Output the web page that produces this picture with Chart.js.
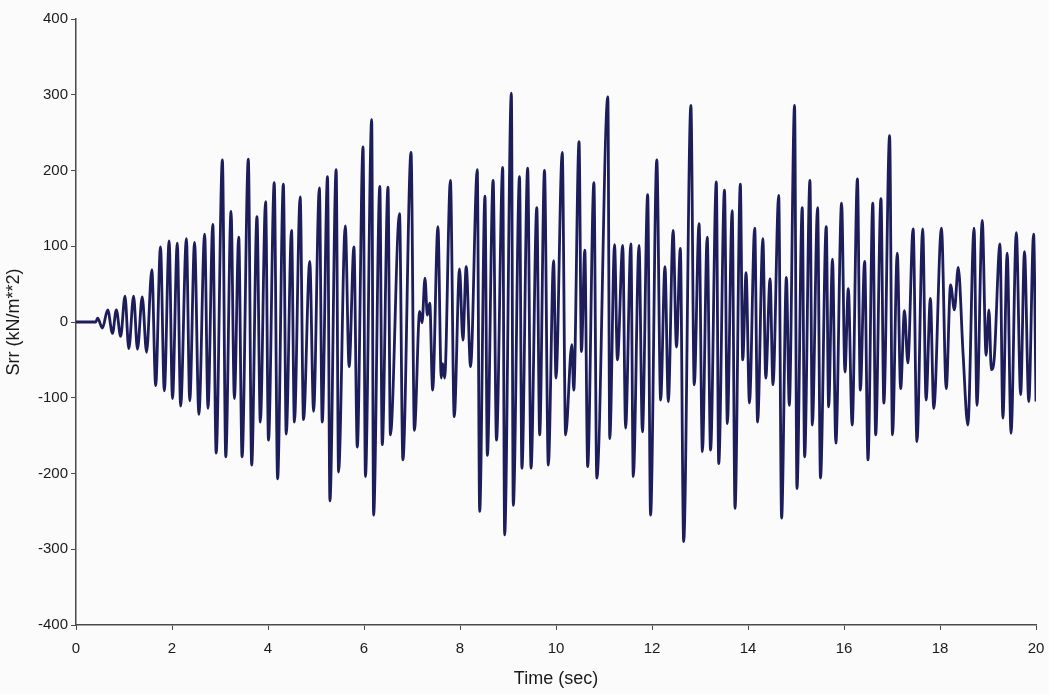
<!DOCTYPE html>
<html>
<head>
<meta charset="utf-8">
<script src="https://cdn.jsdelivr.net/npm/chart.js@4.4.0/dist/chart.umd.min.js"></script>
<style>
  html, body { margin: 0; padding: 0; background: #fbfbfc; }
  #wrap { width: 1049px; height: 694px; }
</style>
</head>
<body>
<div id="wrap"><canvas id="chart" width="1049" height="694"></canvas></div>
<script>
// time (sec) at each turning point of the trace
const times = [
  0, 0.41, 0.45, 0.55, 0.66, 0.76, 0.84, 0.93, 1.02, 1.10, 1.20, 1.28, 1.38, 1.47, 1.58, 1.66,
  1.76, 1.84, 1.94, 2.01, 2.11, 2.18, 2.30, 2.37, 2.47, 2.56, 2.68, 2.75, 2.85, 2.92, 3.05, 3.12,
  3.23, 3.30, 3.39, 3.46, 3.59, 3.66, 3.77, 3.84, 3.95, 4.01, 4.13, 4.20, 4.32, 4.38, 4.49, 4.55,
  4.67, 4.74, 4.87, 4.95, 5.07, 5.13, 5.24, 5.29, 5.42, 5.47, 5.61, 5.69, 5.79, 5.86, 5.98, 6.03,
  6.16, 6.20, 6.33, 6.38, 6.50, 6.55, 6.74, 6.81, 6.98, 7.05, 7.16, 7.21, 7.27, 7.32, 7.37, 7.43,
  7.54, 7.61, 7.64, 7.68, 7.80, 7.88, 7.99, 8.06, 8.13, 8.22, 8.36, 8.41, 8.52, 8.57, 8.69, 8.76,
  8.89, 8.93, 9.07, 9.11, 9.24, 9.29, 9.41, 9.48, 9.60, 9.66, 9.76, 9.84, 9.95, 10.00, 10.13, 10.20,
  10.33, 10.37, 10.48, 10.53, 10.60, 10.66, 10.79, 10.85, 11.08, 11.12, 11.22, 11.28, 11.39, 11.45, 11.56, 11.61,
  11.73, 11.80, 11.91, 11.97, 12.10, 12.18, 12.27, 12.34, 12.44, 12.51, 12.59, 12.66, 12.81, 12.88, 12.98, 13.05,
  13.15, 13.22, 13.34, 13.39, 13.51, 13.57, 13.67, 13.73, 13.84, 13.89, 13.96, 14.03, 14.14, 14.20, 14.31, 14.37,
  14.46, 14.52, 14.64, 14.70, 14.80, 14.86, 14.97, 15.02, 15.13, 15.18, 15.29, 15.34, 15.45, 15.51, 15.63, 15.68,
  15.76, 15.83, 15.95, 16.02, 16.09, 16.17, 16.28, 16.34, 16.43, 16.50, 16.60, 16.66, 16.77, 16.83, 16.95, 17.01,
  17.11, 17.18, 17.26, 17.33, 17.44, 17.52, 17.64, 17.71, 17.80, 17.87, 18.03, 18.13, 18.22, 18.30, 18.38, 18.48,
  18.58, 18.71, 18.77, 18.88, 18.96, 19.02, 19.07, 19.13, 19.25, 19.31, 19.40, 19.48, 19.59, 19.68, 19.76, 19.85,
  19.95, 20.00
];

// Srr (kN/m**2) at those times
const srr = [
  0, 0, 5, -8, 16, -15, 16, -19, 34, -35, 34, -36, 33, -40, 69, -84,
  99, -91, 107, -101, 104, -111, 110, -104, 105, -122, 116, -114, 129, -173, 214, -178,
  146, -101, 112, -178, 215, -189, 139, -132, 159, -156, 184, -207, 182, -148, 121, -132,
  165, -129, 80, -118, 177, -132, 192, -236, 201, -198, 127, -59, 99, -165, 231, -204,
  267, -255, 179, -162, 178, -149, 143, -182, 224, -143, 14, -1, 58, 9, 25, -90,
  126, -74, -55, -74, 187, -125, 70, -24, 73, -59, 201, -250, 166, -176, 187, -156,
  204, -281, 302, -242, 192, -193, 203, -193, 151, -149, 200, -189, 81, -74, 224, -149,
  -30, -90, 238, -39, 95, -191, 184, -206, 297, -154, 102, -50, 101, -140, 103, -204,
  101, -145, 168, -255, 214, -103, 73, -105, 121, -33, 97, -290, 286, -83, 130, -171,
  112, -169, 185, -187, 174, -134, 147, -246, 182, -50, 65, -107, 124, -132, 110, -74,
  57, -83, 167, -259, 59, -110, 286, -220, 151, -178, 187, -136, 151, -206, 126, -112,
  83, -160, 157, -66, 44, -136, 189, -90, 80, -182, 157, -149, 163, -107, 246, -149,
  91, -88, 15, -54, 123, -158, 123, -103, 31, -114, 124, -88, 49, 16, 72, -41,
  -136, 124, -110, 134, -44, 16, -63, -48, 103, -127, 91, -147, 118, -96, 93, -105,
  116, -105
];

const xTicks = [0, 2, 4, 6, 8, 10, 12, 14, 16, 18, 20];
const yTicks = [-400, -300, -200, -100, 0, 100, 200, 300, 400];

const points = times.map((t, i) => ({ x: t, y: srr[i] }));

const axisColor = '#4a4a4a';
const textColor = '#1a1a1a';
const fontFamily = '"Liberation Sans", Arial, sans-serif';

new Chart(document.getElementById('chart'), {
  type: 'line',
  data: {
    datasets: [{
      data: points,
      borderColor: '#1c1d5a',
      borderWidth: 2.8,
      pointRadius: 0,
      fill: false,
      cubicInterpolationMode: 'monotone'
    }]
  },
  options: {
    responsive: false,
    animation: false,
    layout: { padding: { top: 19, right: 13, left: 0, bottom: 0 } },
    plugins: { legend: { display: false }, tooltip: { enabled: false } },
    scales: {
      x: {
        type: 'linear',
        min: 0,
        max: 20,
        afterBuildTicks: axis => { axis.ticks = xTicks.map(v => ({ value: v })); },
        afterFit: axis => {
          axis.height = 69;
          axis.paddingLeft = 8;
          axis.paddingRight = 13;
        },
        grid: { drawOnChartArea: false, drawTicks: true, tickLength: 5, color: axisColor },
        border: { display: true, color: axisColor, width: 1.5 },
        ticks: { color: textColor, padding: 10, maxRotation: 0, font: { family: fontFamily, size: 15 } },
        title: {
          display: true,
          text: 'Time (sec)',
          color: textColor,
          padding: { top: 0, bottom: 4 },
          font: { family: fontFamily, size: 18 }
        }
      },
      y: {
        min: -400,
        max: 400,
        afterBuildTicks: axis => { axis.ticks = yTicks.map(v => ({ value: v })); },
        afterFit: axis => { axis.width = 76; },
        grid: { drawOnChartArea: false, drawTicks: true, tickLength: 5, color: axisColor },
        border: { display: true, color: axisColor, width: 1.5 },
        ticks: { color: textColor, padding: 3, font: { family: fontFamily, size: 15 } },
        title: {
          display: true,
          text: 'Srr (kN/m**2)',
          color: textColor,
          padding: { top: 3, bottom: 0 },
          font: { family: fontFamily, size: 18 }
        }
      }
    }
  }
});
</script>
</body>
</html>
